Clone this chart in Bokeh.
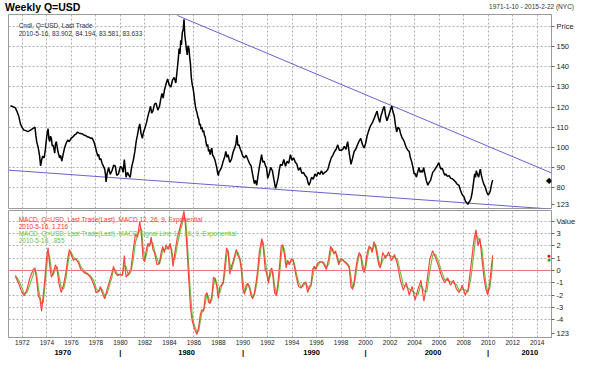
from bokeh.plotting import figure
from bokeh.models import Range1d, FixedTicker, LinearAxis, Label, Span, Div
from bokeh.layouts import column
from bokeh.embed import file_html
from bokeh.resources import INLINE

# ---------------- data ----------------
price_year = [
    1971.03, 1971.25, 1971.43, 1971.55, 1971.70, 1971.85, 1971.97, 1972.10, 1972.23, 1972.45,
    1972.63, 1972.85, 1973.03, 1973.10, 1973.17, 1973.30, 1973.40, 1973.49, 1973.57, 1973.65,
    1973.78, 1973.88, 1973.97, 1974.04, 1974.10, 1974.17, 1974.23, 1974.30, 1974.37, 1974.44,
    1974.50, 1974.57, 1974.64, 1974.70, 1974.77, 1974.90, 1975.04, 1975.12, 1975.22, 1975.33,
    1975.44, 1975.57, 1975.70, 1975.83, 1975.97, 1976.10, 1976.24, 1976.37, 1976.50, 1976.63,
    1976.77, 1976.90, 1977.04, 1977.17, 1977.30, 1977.44, 1977.58, 1977.68, 1977.78, 1977.88,
    1977.98, 1978.07, 1978.16, 1978.23, 1978.30, 1978.40, 1978.51, 1978.62, 1978.72, 1978.78,
    1978.83, 1978.92, 1979.04, 1979.17, 1979.31, 1979.45, 1979.58, 1979.70, 1979.84, 1980.00,
    1980.11, 1980.22, 1980.32, 1980.40, 1980.46, 1980.58, 1980.70, 1980.80, 1980.91, 1981.05,
    1981.18, 1981.29, 1981.39, 1981.49, 1981.58, 1981.68, 1981.79, 1981.88, 1981.98, 1982.12,
    1982.25, 1982.36, 1982.46, 1982.55, 1982.65, 1982.78, 1982.91, 1983.05, 1983.19, 1983.29,
    1983.39, 1983.49, 1983.59, 1983.72, 1983.85, 1983.98, 1984.12, 1984.25, 1984.39, 1984.52,
    1984.65, 1984.72, 1984.79, 1984.86, 1984.92, 1984.98, 1985.05, 1985.12, 1985.19, 1985.25,
    1985.32, 1985.38, 1985.45, 1985.52, 1985.59, 1985.65, 1985.72, 1985.78, 1985.85, 1985.92,
    1985.99, 1986.05, 1986.12, 1986.18, 1986.25, 1986.32, 1986.39, 1986.45, 1986.52, 1986.58,
    1986.65, 1986.72, 1986.79, 1986.85, 1986.92, 1986.98, 1987.05, 1987.12, 1987.19, 1987.25,
    1987.32, 1987.39, 1987.46, 1987.52, 1987.59, 1987.72, 1987.86, 1987.92, 1987.99, 1988.05,
    1988.12, 1988.25, 1988.39, 1988.50, 1988.60, 1988.70, 1988.79, 1988.92, 1989.06, 1989.19,
    1989.32, 1989.42, 1989.51, 1989.58, 1989.67, 1989.76, 1989.86, 1989.99, 1990.12, 1990.26,
    1990.40, 1990.53, 1990.66, 1990.80, 1990.93, 1991.02, 1991.12, 1991.22, 1991.33, 1991.42,
    1991.52, 1991.62, 1991.73, 1991.82, 1991.92, 1992.02, 1992.13, 1992.26, 1992.40, 1992.52,
    1992.66, 1992.77, 1992.88, 1992.97, 1993.06, 1993.20, 1993.33, 1993.47, 1993.60, 1993.73,
    1993.87, 1994.00, 1994.13, 1994.27, 1994.40, 1994.53, 1994.67, 1994.80, 1994.93, 1995.06,
    1995.20, 1995.30, 1995.39, 1995.50, 1995.60, 1995.73, 1995.87, 1996.00, 1996.13, 1996.27,
    1996.40, 1996.53, 1996.67, 1996.80, 1996.93, 1997.06, 1997.20, 1997.33, 1997.47, 1997.60,
    1997.73, 1997.86, 1998.00, 1998.14, 1998.27, 1998.40, 1998.54, 1998.67, 1998.81, 1998.94,
    1999.07, 1999.20, 1999.34, 1999.47, 1999.61, 1999.74, 1999.88, 2000.01, 2000.14, 2000.27,
    2000.41, 2000.54, 2000.68, 2000.81, 2000.94, 2001.05, 2001.16, 2001.25, 2001.34, 2001.43,
    2001.53, 2001.63, 2001.74, 2001.85, 2001.96, 2002.05, 2002.14, 2002.24, 2002.34, 2002.44,
    2002.54, 2002.65, 2002.76, 2002.85, 2002.95, 2003.05, 2003.16, 2003.25, 2003.35, 2003.45,
    2003.56, 2003.65, 2003.75, 2003.85, 2003.96, 2004.05, 2004.15, 2004.25, 2004.36, 2004.45,
    2004.55, 2004.64, 2004.74, 2004.85, 2004.95, 2005.08, 2005.19, 2005.30, 2005.39, 2005.48,
    2005.61, 2005.75, 2005.86, 2005.97, 2006.06, 2006.15, 2006.26, 2006.37, 2006.46, 2006.55,
    2006.68, 2006.82, 2006.95, 2007.09, 2007.22, 2007.35, 2007.48, 2007.62, 2007.75, 2007.89,
    2008.02, 2008.15, 2008.24, 2008.34, 2008.42, 2008.50, 2008.60, 2008.69, 2008.80, 2008.90,
    2008.97, 2009.03, 2009.13, 2009.23, 2009.30, 2009.36, 2009.45, 2009.55, 2009.66, 2009.76,
    2009.87, 2009.98, 2010.07, 2010.16, 2010.23, 2010.29, 2010.37]
price_value = [
    120.7, 120.2, 119.6, 118.0, 115.6, 111.5, 110.0, 108.6, 108.4, 107.8,
    108.4, 109.3, 110.0, 106.0, 102.8, 99.6, 96.0, 90.7, 93.5, 95.5,
    94.7, 99.0, 104.4, 107.5, 109.2, 104.0, 102.8, 105.5, 104.4, 100.5,
    101.2, 99.5, 97.1, 101.5, 102.8, 98.0, 94.7, 96.0, 93.1, 96.5,
    99.6, 102.0, 103.6, 102.8, 104.4, 105.0, 106.0, 106.5, 107.6, 107.0,
    106.8, 106.6, 106.0, 105.8, 105.2, 105.0, 104.4, 104.6, 103.6, 102.0,
    99.6, 97.5, 95.5, 96.5, 93.9, 94.3, 91.9, 90.5, 89.1, 86.5,
    82.7, 87.0, 89.9, 86.5, 88.3, 91.0, 90.7, 86.0, 86.7, 90.5,
    89.9, 87.5, 93.9, 89.0, 85.1, 87.5, 85.9, 85.0, 89.9, 93.5,
    97.9, 103.0, 106.0, 109.5, 111.6, 107.0, 104.4, 107.5, 109.2, 112.0,
    115.6, 118.0, 120.4, 117.0, 118.0, 121.5, 122.0, 118.5, 120.4, 124.0,
    126.8, 124.5, 128.4, 131.5, 134.0, 131.0, 130.0, 133.5, 134.8, 132.0,
    139.6, 144.0, 149.2, 146.5, 153.2, 151.0, 157.2, 158.5, 163.7, 156.0,
    152.4, 149.0, 146.0, 150.5, 149.2, 145.0, 141.2, 135.0, 131.6, 129.5,
    126.8, 123.5, 120.4, 118.5, 117.2, 115.0, 114.0, 111.0, 111.6, 109.0,
    110.0, 107.5, 108.4, 106.0, 105.2, 102.5, 100.4, 101.5, 97.9, 99.0,
    96.3, 98.5, 99.6, 96.0, 95.5, 93.5, 89.9, 87.5, 85.9, 88.0,
    88.3, 90.0, 93.1, 95.0, 97.9, 95.0, 96.3, 92.5, 94.0, 97.5,
    99.6, 101.5, 106.0, 101.0, 101.2, 99.5, 97.9, 95.5, 94.7, 96.0,
    93.9, 92.0, 90.7, 86.0, 81.9, 83.5, 81.1, 85.5, 89.9, 93.0,
    96.3, 92.5, 93.1, 91.0, 89.9, 84.5, 86.7, 90.0, 88.3, 84.0,
    79.5, 82.0, 85.1, 89.0, 91.5, 91.0, 93.9, 90.5, 93.1, 92.0,
    96.3, 93.5, 94.7, 92.5, 91.5, 88.5, 89.9, 87.0, 87.5, 86.0,
    85.1, 82.5, 81.1, 83.0, 85.1, 84.0, 86.7, 85.5, 87.5, 86.5,
    88.3, 86.5, 87.5, 88.0, 89.1, 92.0, 94.7, 96.0, 97.9, 99.0,
    101.2, 98.5, 98.5, 99.0, 100.4, 99.0, 102.8, 97.0, 91.5, 94.5,
    97.9, 99.0, 101.2, 103.0, 104.4, 101.5, 99.6, 102.0, 106.0, 108.5,
    110.8, 112.0, 114.0, 116.0, 118.0, 114.5, 112.4, 115.5, 117.2, 119.0,
    120.4, 116.0, 113.2, 115.0, 117.2, 119.0, 120.4, 117.5, 115.6, 111.0,
    107.6, 110.0, 109.2, 107.0, 105.2, 104.0, 102.8, 101.0, 99.6, 98.5,
    97.9, 95.0, 93.1, 90.5, 86.7, 87.0, 85.1, 87.5, 89.9, 87.5,
    88.3, 87.5, 89.9, 86.5, 83.5, 81.1, 82.5, 83.5, 85.5, 87.5,
    88.5, 89.9, 91.0, 92.3, 90.5, 89.1, 89.5, 87.5, 86.0, 86.7,
    85.5, 85.9, 84.5, 84.3, 83.5, 82.7, 81.5, 81.1, 78.5, 76.3,
    75.5, 73.1, 72.5, 71.5, 72.5, 73.1, 74.5, 77.1, 82.0, 86.7,
    85.0, 88.3, 86.5, 85.1, 87.5, 89.1, 86.0, 83.5, 81.5, 80.3,
    78.0, 76.3, 76.8, 77.9, 80.0, 81.9, 83.633]

macd_year = [1971.43, 1971.70, 1971.97, 1972.15, 1972.37, 1972.63, 1972.90, 1973.03, 1973.17, 1973.30,
             1973.43, 1973.57, 1973.70, 1973.83, 1973.97, 1974.10, 1974.23, 1974.37, 1974.50, 1974.69,
             1974.82, 1974.98, 1975.17, 1975.36, 1975.57, 1975.70, 1975.84, 1975.97, 1976.16, 1976.37,
             1976.59, 1976.77, 1977.04, 1977.31, 1977.57, 1977.84, 1978.03, 1978.24, 1978.37, 1978.51,
             1978.72, 1978.91, 1979.10, 1979.31, 1979.44, 1979.58, 1979.76, 1979.98, 1980.16, 1980.32,
             1980.46, 1980.65, 1980.86, 1981.05, 1981.23, 1981.39, 1981.58, 1981.71, 1981.85, 1981.98,
             1982.11, 1982.25, 1982.38, 1982.51, 1982.65, 1982.78, 1982.99, 1983.18, 1983.32, 1983.45,
             1983.58, 1983.72, 1983.90, 1984.06, 1984.17, 1984.30, 1984.44, 1984.65, 1984.86, 1985.05,
             1985.19, 1985.32, 1985.45, 1985.58, 1985.72, 1985.85, 1985.99, 1986.12, 1986.25, 1986.39,
             1986.52, 1986.65, 1986.79, 1986.92, 1987.06, 1987.19, 1987.32, 1987.46, 1987.59, 1987.72,
             1987.86, 1987.99, 1988.12, 1988.26, 1988.39, 1988.52, 1988.66, 1988.79, 1988.92, 1989.06,
             1989.19, 1989.32, 1989.46, 1989.59, 1989.73, 1989.86, 1989.99, 1990.13, 1990.26, 1990.39,
             1990.53, 1990.66, 1990.79, 1990.93, 1991.06, 1991.19, 1991.33, 1991.46, 1991.54, 1991.65,
             1991.81, 1991.94, 1992.08, 1992.21, 1992.34, 1992.45, 1992.58, 1992.72, 1992.85, 1992.99,
             1993.12, 1993.25, 1993.39, 1993.52, 1993.65, 1993.79, 1993.95, 1994.08, 1994.21, 1994.35,
             1994.53, 1994.75, 1994.93, 1995.12, 1995.28, 1995.41, 1995.55, 1995.68, 1995.82, 1995.95,
             1996.08, 1996.27, 1996.46, 1996.62, 1996.80, 1996.99, 1997.15, 1997.28, 1997.42, 1997.55,
             1997.68, 1997.82, 1997.95, 1998.14, 1998.27, 1998.41, 1998.54, 1998.67, 1998.81, 1998.94,
             1999.07, 1999.21, 1999.34, 1999.48, 1999.61, 1999.74, 1999.88, 2000.01, 2000.14, 2000.28,
             2000.41, 2000.54, 2000.68, 2000.81, 2000.94, 2001.08, 2001.21, 2001.40, 2001.64, 2001.88,
             2002.12, 2002.36, 2002.60, 2002.84, 2003.08, 2003.32, 2003.56, 2003.80, 2004.04, 2004.28,
             2004.52, 2004.76, 2005.00, 2005.24, 2005.48, 2005.72, 2005.97, 2006.21, 2006.45, 2006.69,
             2006.93, 2007.17, 2007.41, 2007.65, 2007.89, 2008.13, 2008.37, 2008.61, 2008.85, 2009.01,
             2009.17, 2009.33, 2009.49, 2009.65, 2009.81, 2009.97, 2010.13, 2010.29, 2010.37]
macd_line = [-0.48, -1.05, -1.8, -2.05, -1.55, -0.55, 0.08, 0.2, -0.8, -2.05,
             -2.3, -3.3, -2.05, -0.8, 0.95, 1.83, 0.45, -0.55, -0.3, 0.45,
             0.2, -1.05, -1.8, -1.18, -0.05, 0.95, 1.7, 1.33, 0.83, 0.95,
             0.58, 0.08, -0.18, -0.3, -0.55, -1.18, -1.8, -1.68, -1.3, -1.8,
             -2.3, -1.55, -0.93, -0.18, 0.33, -0.18, -0.43, -0.3, -0.43, 1.2,
             -0.55, -0.3, 0.08, 1.7, 2.96, 2.7, 3.96, 2.96, 0.95, 0.7,
             1.7, 2.2, 1.95, 2.7, 1.7, 1.45, 0.45, 0.58, 1.45, 1.95,
             1.45, 2.08, 1.7, 2.2, 1.45, 0.33, 1.45, 2.7, 3.46, 4.2,
             4.8, 3.46, 1.45, -0.8, -3.06, -4.06, -4.56, -4.94, -5.19, -4.56,
             -3.56, -3.18, -3.3, -2.05, -1.8, -2.56, -2.68, -2.05, -0.55, -0.68,
             -1.3, -2.3, -1.3, -1.18, -0.93, 0.45, 1.83, 1.45, -0.3, 0.33,
             0.7, 1.2, 1.7, 1.2, 0.95, 0.08, -1.55, -1.93, -1.18, -1.05,
             -1.43, -2.05, -2.3, -1.8, -1.05, -0.05, 1.45, 2.2, 2.58, 1.95,
             0.08, -0.3, -1.05, -0.05, 0.2, -0.55, -1.8, -2.05, -1.05, 0.45,
             1.95, 2.08, 1.2, 0.2, 0.83, 0.45, 0.95, 0.83, 0.2, -0.55,
             -1.3, -1.43, -1.05, -0.93, -1.8, -1.3, -1.18, 0.08, 0.33, 0.08,
             0.58, 0.7, 0.7, 0.45, 0.08, 0.95, 1.95, 1.7, 1.33, 1.58,
             0.95, 0.45, 0.95, 0.83, 0.7, 0.58, 0.45, 0.2, -1.3, -1.55,
             -0.93, 0.2, 0.95, 1.45, 1.2, 0.2, -0.18, 0.58, 1.45, 1.95,
             1.83, 1.45, 2.33, 1.95, 1.2, 0.45, 0.2, 1.45, 1.0, 1.5,
             0.8, 1.3, 0.5, -0.8, -1.6, -1.0, -2.0, -1.3, -2.4, -1.5,
             -0.8, -2.5, -1.0, 0.9, 1.6, 1.0, 0.3, -0.5, -1.0, -0.6,
             -1.2, -0.8, -1.5, -1.8, -1.2, -2.0, -1.5, 0.5, 2.5, 3.3,
             2.0, 2.6, 1.0, -0.5, -1.5, -2.0, -1.0, 0.5, 1.216]
signal_line = [-0.4, -0.8, -1.4, -1.9, -1.8, -1.1, -0.3, 0.1, -0.3, -1.4,
               -2.1, -2.7, -2.6, -1.4, 0.1, 1.4, 1.1, 0.0, -0.4, 0.1,
               0.3, -0.4, -1.4, -1.5, -0.6, 0.45, 1.3, 1.5, 1.1, 0.9,
               0.75, 0.3, -0.05, -0.25, -0.45, -0.85, -1.5, -1.7, -1.5, -1.55,
               -2.05, -1.9, -1.25, -0.55, 0.1, 0.05, -0.3, -0.35, -0.35, 0.4,
               0.3, -0.4, -0.1, 0.9, 2.3, 2.8, 3.3, 3.4, 1.9, 0.85,
               1.2, 1.95, 2.05, 2.3, 2.2, 1.6, 0.95, 0.5, 1.0, 1.7,
               1.7, 1.75, 1.9, 1.95, 1.8, 0.9, 0.9, 2.1, 3.1, 3.8,
               4.4, 4.1, 2.5, 0.3, -1.9, -3.5, -4.3, -4.7, -5.0, -4.9,
               -4.1, -3.4, -3.2, -2.7, -1.9, -2.2, -2.6, -2.4, -1.3, -0.6,
               -1.0, -1.8, -1.8, -1.25, -1.05, -0.25, 1.15, 1.65, 0.6, 0.0,
               0.5, 0.95, 1.45, 1.45, 1.05, 0.5, -0.75, -1.75, -1.55, -1.1,
               -1.25, -1.75, -2.2, -2.05, -1.4, -0.55, 0.7, 1.8, 2.4, 2.25,
               1.0, -0.1, -0.7, -0.55, 0.1, -0.2, -1.2, -1.95, -1.55, -0.3,
               1.2, 2.0, 1.65, 0.7, 0.5, 0.65, 0.7, 0.9, 0.5, -0.2,
               -0.95, -1.35, -1.25, -1.0, -1.35, -1.55, -1.25, -0.55, 0.2, 0.2,
               0.35, 0.65, 0.7, 0.6, 0.25, 0.5, 1.45, 1.8, 1.5, 1.45,
               1.25, 0.7, 0.7, 0.9, 0.75, 0.65, 0.5, 0.35, -0.55, -1.4,
               -1.25, -0.35, 0.55, 1.2, 1.3, 0.7, 0.0, 0.2, 1.0, 1.7,
               1.9, 1.65, 1.9, 2.15, 1.6, 0.8, 0.35, 0.8, 1.2, 1.25,
               1.15, 1.05, 0.9, -0.15, -1.2, -1.3, -1.5, -1.65, -1.85, -1.95,
               -1.15, -1.65, -1.75, -0.05, 1.25, 1.3, 0.65, -0.1, -0.75, -0.8,
               -0.9, -1.0, -1.15, -1.65, -1.5, -1.6, -1.75, -0.5, 1.5, 2.9,
               2.65, 2.3, 1.8, 0.25, -1.0, -1.75, -1.5, -0.25, 0.855]

upper_trend_year = [1984.65, 2015.17]
upper_trend_value = [165.6, 87.2]
lower_trend_year = [1970.87, 2015.17]
lower_trend_value = [88.6, 69.2]

year_ticks = list(range(1972, 2015, 2))
era_ticks = [1975.3, 1980, 1985.4, 1990, 1995.6, 2000, 2005.5, 2010, 2013.4]
era_labels = ["1970", "|", "1980", "|", "1990", "|", "2000", "|", "2010"]
price_ticks = [80, 90, 100, 110, 120, 130, 140, 150, 160]
price_tick_labels = ["80", "90", "100", "110", "120", "130", "140", "150", "Price"]
macd_ticks = [-4, -3, -2, -1, 0, 1, 2, 3, 4]
macd_tick_labels = ["-4", "-3", "-2", "-1", "0", "1", "2", "3", "Value"]
scale_box_price = 71.6
scale_box_macd = -5.13

# ---------------- styling ----------------
FONT = "Liberation Sans"
GRID = "#b0b0b0"
OUTLINE = "#9a9a9a"
RED = "#ff3030"
GREEN = "#6cc43a"
BLUE = "#6363d6"
W = 578

x_rng = Range1d(1970.87, 2015.17)


def style_right_axis(ax, ticks, labels, box_at):
    ax.ticker = FixedTicker(ticks=ticks + [box_at])
    ov = dict(zip(ticks, labels))
    ov[box_at] = "123"
    ax.major_label_overrides = ov
    ax.axis_line_color = OUTLINE
    ax.major_tick_line_color = "#666666"
    ax.major_tick_in = 0
    ax.major_tick_out = 3
    ax.minor_tick_line_color = None
    ax.major_label_standoff = 2
    ax.major_label_text_font = FONT
    ax.major_label_text_font_size = "7.5px"
    ax.major_label_text_color = "#222222"


def style_grid(p, yticks):
    for g in (p.xgrid[0], p.ygrid[0]):
        g.grid_line_color = GRID
        g.grid_line_dash = "2 2"
        g.grid_line_width = 1
    p.xgrid[0].ticker = FixedTicker(ticks=year_ticks)
    p.ygrid[0].ticker = FixedTicker(ticks=yticks)


def add_text(p, x, y, text, size, color="#333333", style="normal", align="left", **kw):
    p.add_layout(Label(x=x, y=y, text=text, text_font=FONT, text_font_size=size,
                       text_color=color, text_font_style=style, text_align=align,
                       text_baseline="middle", **kw))


# ---------------- header strip ----------------
hdr = Div(
    text=(f'<div style="position:relative;width:{W}px;height:14px;font-family:\'{FONT}\';">'
          '<span style="position:absolute;left:5px;top:1px;font-size:10.5px;font-weight:bold;'
          'color:black;line-height:12px;white-space:nowrap;">Weekly Q=USD</span>'
          '<span style="position:absolute;right:4px;top:3px;font-size:6.5px;color:#333333;'
          'line-height:8px;white-space:nowrap;">1971-1-10 - 2015-2-22 (NYC)</span></div>'),
    width=W, height=14, margin=(0, 0, 0, 0))

# ---------------- price panel ----------------
p1 = figure(width=W, height=195, x_range=x_rng, y_range=Range1d(69.5, 166.1),
            output_backend="svg", toolbar_location=None, y_axis_location="right",
            x_axis_location=None, min_border_left=8, min_border_right=25,
            min_border_top=0, min_border_bottom=1)
p1.outline_line_color = OUTLINE
p1.background_fill_color = "white"
p1.border_fill_color = "white"
style_right_axis(p1.yaxis[0], price_ticks, price_tick_labels, scale_box_price)
style_grid(p1, price_ticks)

p1.line(upper_trend_year, upper_trend_value, line_color=BLUE, line_width=1)
p1.line(lower_trend_year, lower_trend_value, line_color=BLUE, line_width=1)
p1.line(price_year, price_value, line_color="black", line_width=1.5)

add_text(p1, 1971.7, 160.5, "Cndl, Q=USD, Last Trade", "6.5px")
add_text(p1, 1971.7, 156.4, "2010-5-16, 83.902, 84.194, 83.581, 83.633", "6.5px")
add_text(p1, 2014.95, price_value[-1], "\u25c6", "8px", color="black", align="center")

# ---------------- MACD panel ----------------
p2 = figure(width=W, height=150, x_range=x_rng, y_range=Range1d(-5.44, 4.86),
            output_backend="svg", toolbar_location=None, y_axis_location="right",
            x_axis_location="below", min_border_left=8, min_border_right=25,
            min_border_top=1, min_border_bottom=18)
p2.outline_line_color = OUTLINE
p2.background_fill_color = "white"
p2.border_fill_color = "white"
style_right_axis(p2.yaxis[0], macd_ticks, macd_tick_labels, scale_box_macd)
style_grid(p2, macd_ticks)

xa = p2.xaxis[0]
xa.ticker = FixedTicker(ticks=year_ticks)
xa.axis_line_color = None
xa.major_tick_line_color = None
xa.major_tick_in = 0
xa.major_tick_out = 0
xa.minor_tick_line_color = None
xa.minor_tick_in = 0
xa.minor_tick_out = 0
xa.major_label_standoff = 2
xa.major_label_text_font = FONT
xa.major_label_text_font_size = "6.5px"
xa.major_label_text_color = "#222222"

era_axis = LinearAxis(ticker=FixedTicker(ticks=era_ticks),
                      major_label_overrides=dict(zip(era_ticks, era_labels)))
era_axis.axis_line_color = None
era_axis.major_tick_line_color = None
era_axis.major_tick_in = 0
era_axis.major_tick_out = 0
era_axis.minor_tick_line_color = None
era_axis.minor_tick_in = 0
era_axis.minor_tick_out = 0
era_axis.major_label_standoff = 0
era_axis.major_label_text_font = FONT
era_axis.major_label_text_font_size = "7.5px"
era_axis.major_label_text_font_style = "bold"
era_axis.major_label_text_color = "black"
p2.add_layout(era_axis, "below")

p2.add_layout(Span(location=0, dimension="width", line_color="#f07070", line_width=1))
p2.line(macd_year, signal_line, line_color=GREEN, line_width=1.2)
p2.line(macd_year, macd_line, line_color=RED, line_width=1.2, line_alpha=0.9)

add_text(p2, 1971.7, 4.17, "MACD, Q=USD, Last Trade(Last), MACD 12, 26, 9, Exponential", "6.5px", color=RED)
add_text(p2, 1971.7, 3.59, "2010-5-16, 1.216", "6.5px", color=RED)
add_text(p2, 1971.7, 3.01, "MACD, Q=USD, Last Trade(Last), MACD Signal Line 12, 26, 9, Exponential", "6.5px", color=GREEN)
add_text(p2, 1971.7, 2.46, "2010-5-16, .855", "6.5px", color=GREEN)
add_text(p2, 2014.95, macd_line[-1], "\u25cf", "7px", color="red", align="center")
add_text(p2, 2014.95, signal_line[-1], "\u25cf", "7px", color="#2e9e2e", align="center")

layout = column(hdr, p1, p2)
open("out.html", "w").write(file_html(layout, INLINE))
